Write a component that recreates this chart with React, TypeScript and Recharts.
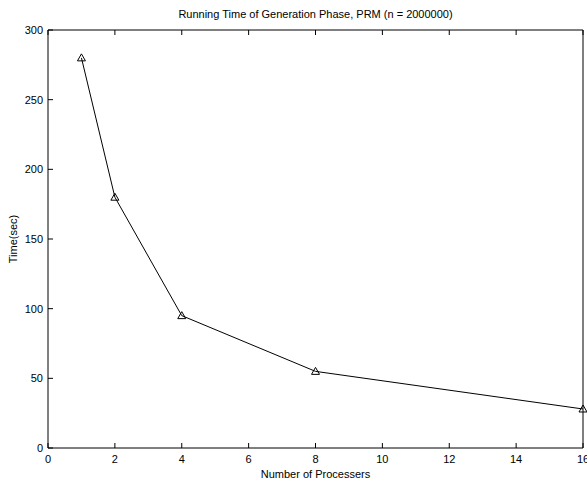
import { LineChart, Line, XAxis, YAxis } from 'recharts';

const processors = [1, 2, 4, 8, 16];
const timeSec = [280, 180, 95, 55, 28];
const xTicks = [0, 2, 4, 6, 8, 10, 12, 14, 16];
const yTicks = [0, 50, 100, 150, 200, 250, 300];

const data = processors.map((p, i) => ({ p, t: timeSec[i] }));

// full-window figure, no body margin / scrollbars
document.body.style.margin = '0';
document.documentElement.style.overflow = 'hidden';

const font = 'Liberation Sans, Arial, sans-serif';
const tickStyle = { fontSize: 11, fill: '#000', fontFamily: font };

function Triangle({ cx, cy }: { cx?: number; cy?: number }) {
  if (cx == null || cy == null) return null;
  const s = 4;
  return (
    <polygon
      points={`${cx},${cy - s} ${cx - s},${cy + s * 0.75} ${cx + s},${cy + s * 0.75}`}
      fill="none"
      stroke="#000"
      strokeWidth={1}
    />
  );
}

const NoTick = () => <g />;

export default function App() {
  return (
    <div style={{ width: 587, height: 481, position: 'relative', overflow: 'hidden', fontFamily: font, fontSize: 11 }}>
      <div style={{ position: 'absolute', top: 7, left: 48, width: 535, textAlign: 'center', lineHeight: '14px' }}>
        Running Time of Generation Phase, PRM (n = 2000000)
      </div>
      <div style={{ position: 'absolute', top: 467, left: 48, width: 535, textAlign: 'center', lineHeight: '14px' }}>
        Number of Processers
      </div>
      <div
        style={{
          position: 'absolute',
          top: 232,
          left: -37,
          width: 100,
          textAlign: 'center',
          lineHeight: '14px',
          transform: 'rotate(-90deg)',
        }}
      >
        Time(sec)
      </div>
      <LineChart width={587} height={481} data={data} margin={{ top: 29, right: 3, bottom: 13, left: 0 }}>
        <XAxis
          xAxisId="b"
          dataKey="p"
          type="number"
          domain={[0, 16]}
          ticks={xTicks}
          interval={0}
          height={20}
          tickSize={-5}
          tickMargin={12}
          tick={tickStyle}
          stroke="#000"
        />
        <XAxis
          xAxisId="t"
          orientation="top"
          dataKey="p"
          type="number"
          domain={[0, 16]}
          ticks={xTicks}
          interval={0}
          height={1}
          tickSize={-5}
          tick={NoTick}
          stroke="#000"
        />
        <YAxis
          yAxisId="l"
          type="number"
          domain={[0, 300]}
          ticks={yTicks}
          interval={0}
          width={48}
          tickSize={-5}
          tickMargin={10}
          tick={tickStyle}
          stroke="#000"
        />
        <YAxis
          yAxisId="r"
          orientation="right"
          type="number"
          domain={[0, 300]}
          ticks={yTicks}
          interval={0}
          width={1}
          tickSize={-5}
          tick={NoTick}
          stroke="#000"
        />
        <Line
          xAxisId="b"
          yAxisId="l"
          dataKey="t"
          type="linear"
          stroke="#000"
          strokeWidth={1}
          dot={<Triangle />}
          activeDot={false}
          isAnimationActive={false}
        />
      </LineChart>
    </div>
  );
}
